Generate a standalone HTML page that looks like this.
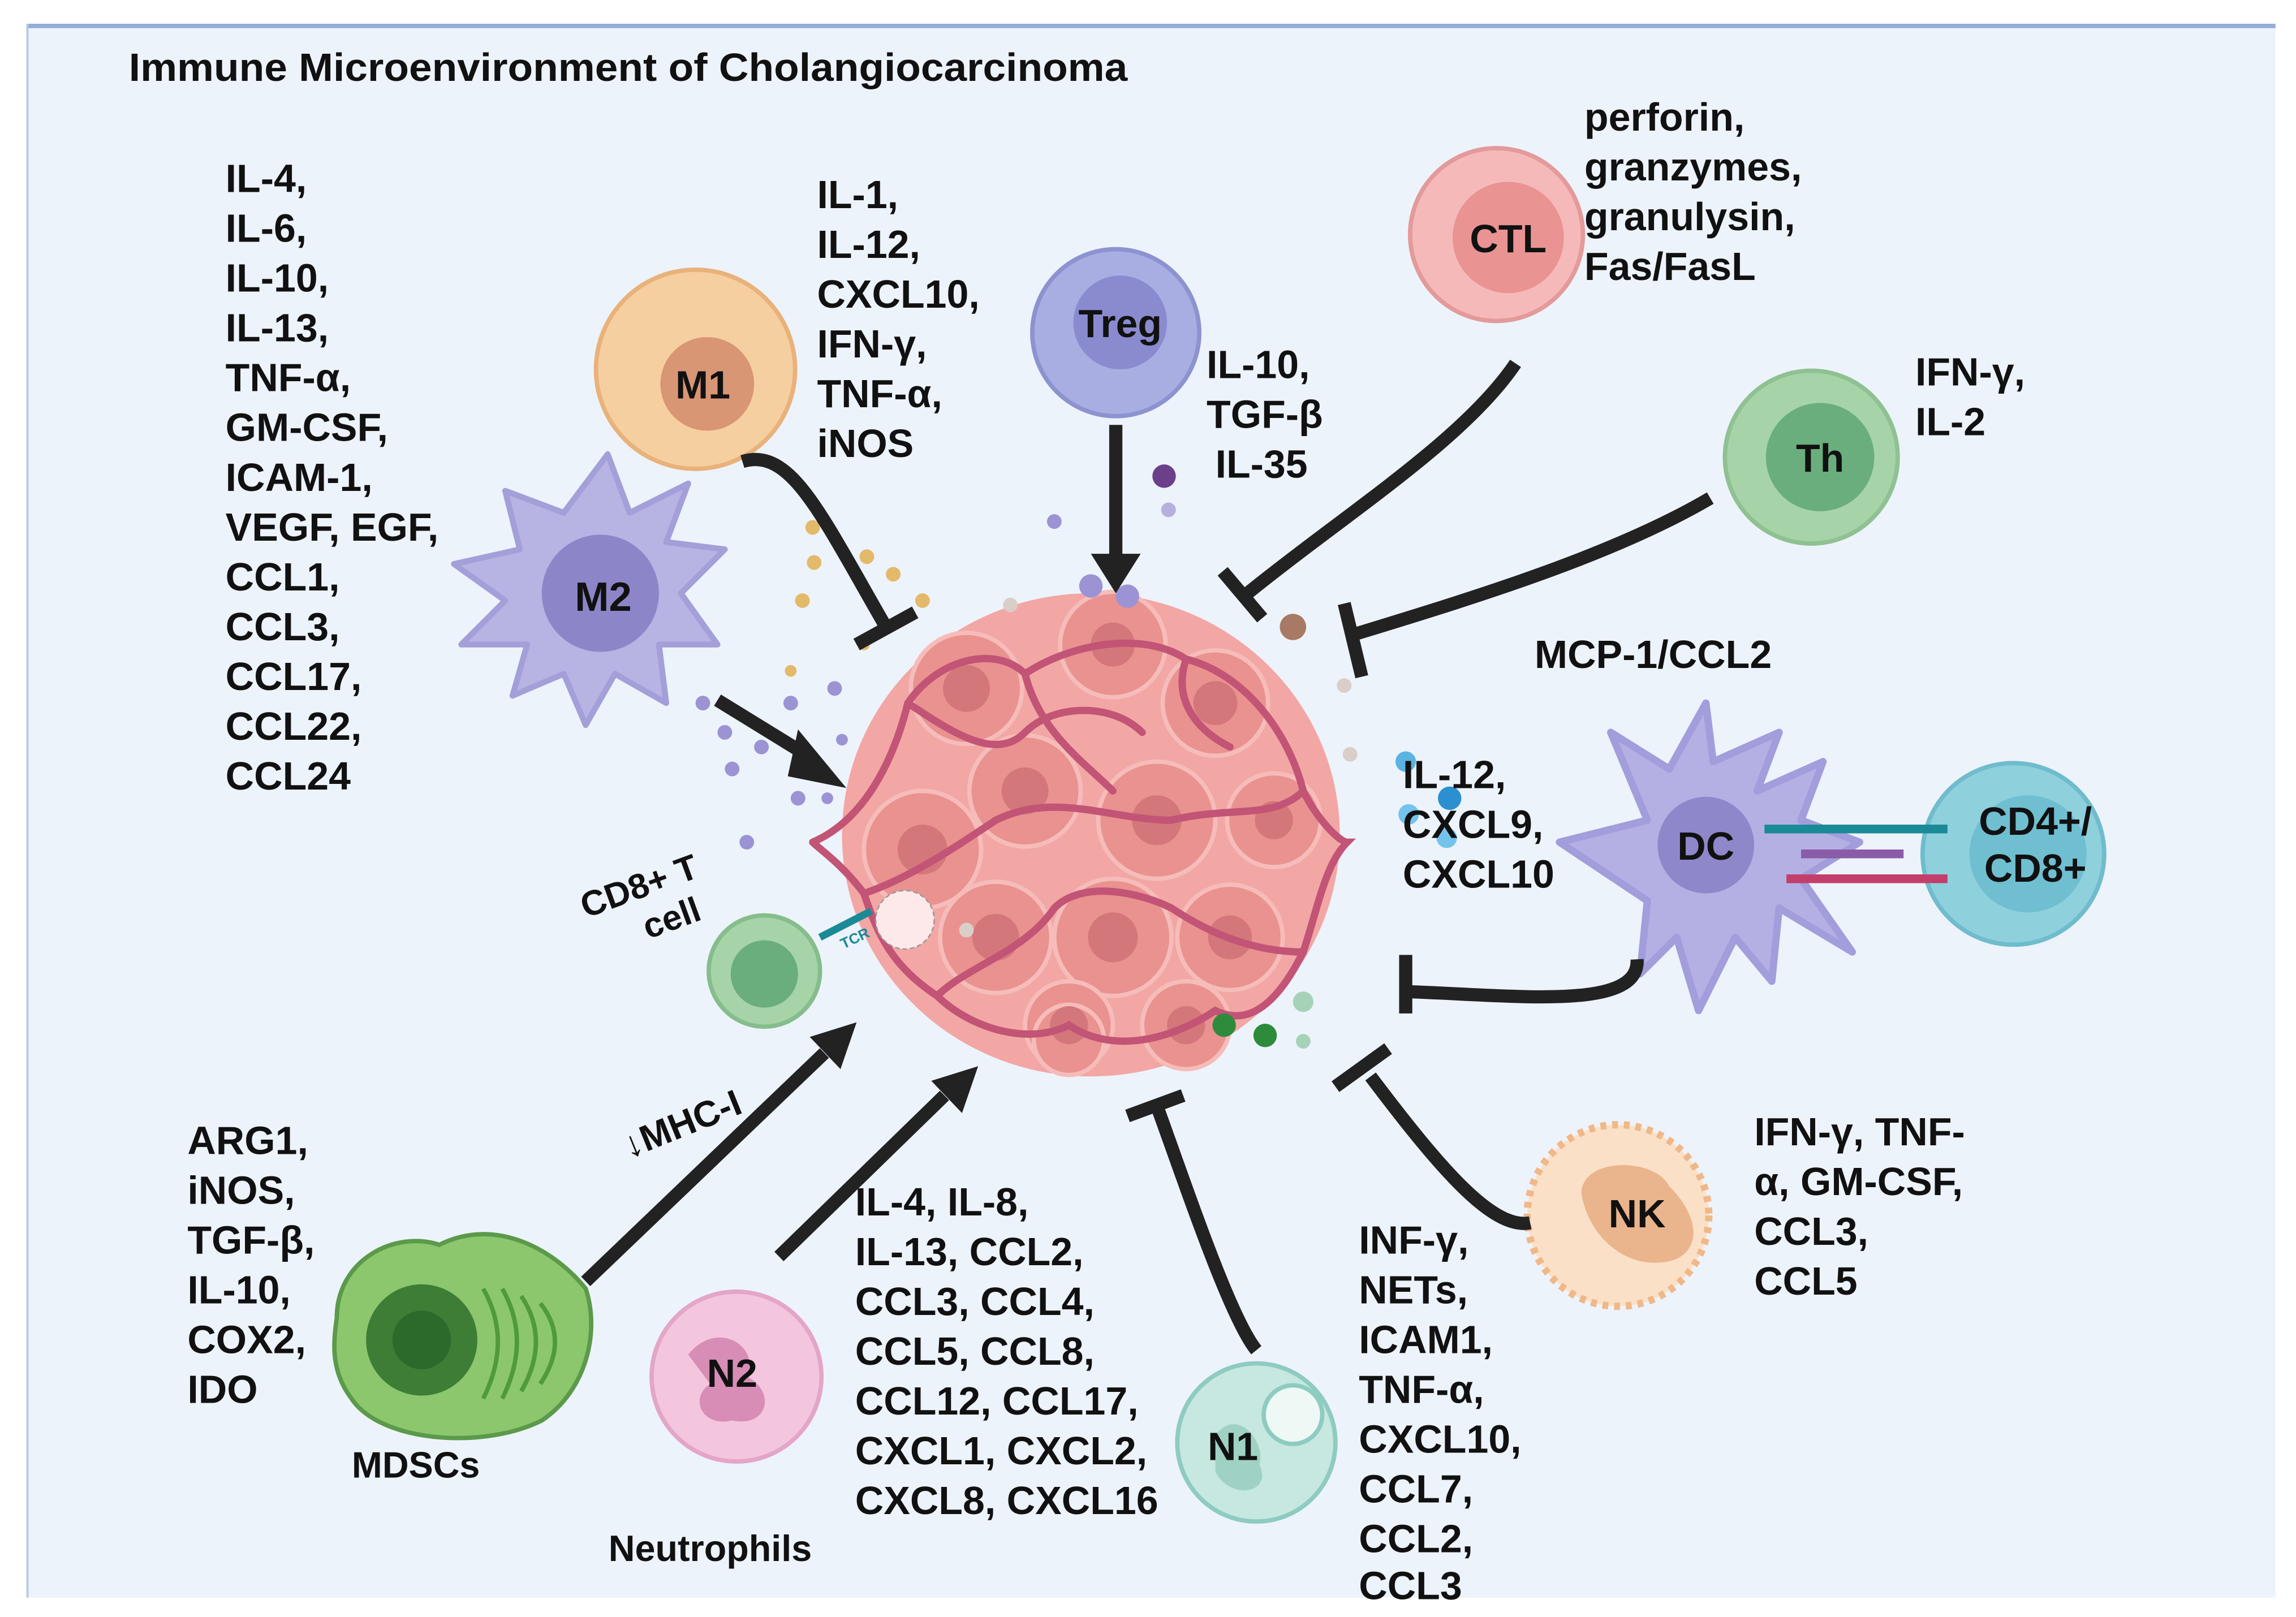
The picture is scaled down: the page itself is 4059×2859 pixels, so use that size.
<!DOCTYPE html>
<html><head><meta charset="utf-8"><style>
html,body{margin:0;padding:0;background:#fff}
svg{display:block}
text{font-family:"Liberation Sans Narrow","Liberation Sans",sans-serif;font-weight:bold;fill:#111}
</style></head><body>
<svg width="4059" height="2859" viewBox="0 0 1568 1104" xmlns="http://www.w3.org/2000/svg">
<rect x="0" y="0" width="1568" height="1104" fill="#fff"/>
<rect x="18" y="16" width="1536" height="1075" fill="#edf3fb"/>
<rect x="18" y="16" width="1536" height="3" fill="#94add8"/>
<rect x="18" y="16" width="1.5" height="1075" fill="#b8c8e6"/>

<text x="88" y="55" font-size="27" textLength="682" lengthAdjust="spacingAndGlyphs">Immune Microenvironment of Cholangiocarcinoma</text>

<!-- tumor -->
<g>
<ellipse cx="745" cy="570" rx="170" ry="165" fill="#f2a7a5"/>
<g fill="#e9928f" stroke="#f6bcb9" stroke-width="3">
<circle cx="660" cy="470" r="38"/><circle cx="760" cy="440" r="36"/><circle cx="830" cy="480" r="36"/>
<circle cx="630" cy="580" r="40"/><circle cx="700" cy="540" r="38"/><circle cx="790" cy="560" r="40"/>
<circle cx="870" cy="560" r="32"/><circle cx="680" cy="640" r="38"/><circle cx="760" cy="640" r="40"/>
<circle cx="840" cy="640" r="36"/><circle cx="730" cy="700" r="30"/><circle cx="810" cy="700" r="30"/>
<circle cx="730" cy="710" r="24"/>
</g>
<g fill="#d4777a">
<circle cx="660" cy="470" r="16"/><circle cx="760" cy="440" r="15"/><circle cx="830" cy="480" r="15"/>
<circle cx="630" cy="580" r="17"/><circle cx="700" cy="540" r="16"/><circle cx="790" cy="560" r="17"/>
<circle cx="870" cy="560" r="13"/><circle cx="680" cy="640" r="16"/><circle cx="760" cy="640" r="17"/>
<circle cx="840" cy="640" r="15"/><circle cx="730" cy="700" r="13"/><circle cx="810" cy="700" r="13"/>
</g>
<g fill="none" stroke="#c25476" stroke-width="5" stroke-linecap="round">
<path d="M555 575 C590 560 610 520 620 480 C640 450 680 440 700 460 C730 440 780 430 810 450 C850 460 880 500 890 540 C900 560 915 575 920 575 C905 590 900 620 890 650 C870 690 850 700 830 690 C800 710 760 720 730 700 C700 715 660 700 640 680 C610 660 600 640 590 610 C575 590 560 580 555 575"/>
<path d="M590 610 C620 600 650 580 680 560 C720 540 760 560 800 560 C840 550 870 560 890 540"/>
<path d="M640 680 C660 660 700 650 720 620 C740 600 780 610 800 620 C830 640 860 650 890 650"/>
<path d="M620 480 C650 500 680 520 700 500 C720 480 760 480 780 500"/>
<path d="M700 460 C710 500 740 520 760 540"/>
<path d="M810 450 C800 480 820 500 840 510"/>
</g>
<circle cx="618" cy="628" r="20" fill="#fde9ea" stroke="#999" stroke-width="1" stroke-dasharray="3 2"/>
</g>
<!-- dots -->
<g>
<circle cx="795" cy="325" r="8" fill="#6b3f8a"/><circle cx="798" cy="348" r="5" fill="#b5b0dd"/>
<circle cx="745" cy="400" r="8" fill="#9b93d4"/><circle cx="770" cy="407" r="8" fill="#9b93d4"/><circle cx="720" cy="356" r="5" fill="#9b93d4"/>
<circle cx="883" cy="428" r="9" fill="#a87a66"/><circle cx="918" cy="468" r="5" fill="#d9cfc8"/><circle cx="922" cy="515" r="5" fill="#d9cfc8"/>
<circle cx="960" cy="520" r="7" fill="#5ab3e0"/><circle cx="990" cy="545" r="8" fill="#2c8fd0"/><circle cx="962" cy="556" r="7" fill="#74c3ec"/><circle cx="988" cy="572" r="7" fill="#74c3ec"/>
<circle cx="836" cy="700" r="8" fill="#2e8b3b"/><circle cx="864" cy="707" r="8" fill="#2e8b3b"/><circle cx="890" cy="684" r="7" fill="#a6d3b8"/><circle cx="890" cy="711" r="5" fill="#a6d3b8"/>
<circle cx="660" cy="635" r="5" fill="#d9cfc8"/><circle cx="690" cy="413" r="5" fill="#d9cfc8"/>
<g fill="#e3b96a"><circle cx="555" cy="360" r="5"/><circle cx="556" cy="384" r="5"/><circle cx="592" cy="380" r="5"/><circle cx="610" cy="392" r="5"/><circle cx="630" cy="410" r="5"/><circle cx="548" cy="410" r="5"/><circle cx="590" cy="440" r="4"/><circle cx="540" cy="458" r="4"/></g>
<g fill="#9b93d4"><circle cx="480" cy="480" r="5"/><circle cx="495" cy="500" r="5"/><circle cx="520" cy="510" r="5"/><circle cx="540" cy="480" r="5"/><circle cx="570" cy="470" r="5"/><circle cx="500" cy="525" r="5"/><circle cx="545" cy="545" r="5"/><circle cx="565" cy="545" r="4"/><circle cx="510" cy="575" r="5"/><circle cx="575" cy="505" r="4"/></g>
</g>

<!-- M2 -->
<path d="M415 310 L430 350 L470 330 L455 370 L495 375 L465 405 L490 440 L450 440 L455 480 L420 460 L400 495 L385 460 L350 475 L360 440 L315 440 L345 410 L310 385 L355 375 L345 335 L385 350 Z" fill="#b7b3e3" stroke="#a39fd8" stroke-width="4" stroke-linejoin="round"/>
<circle cx="410" cy="405" r="40" fill="#8c86c9"/>
<text x="412" y="417" font-size="28" text-anchor="middle">M2</text>
<!-- M1 -->
<circle cx="475" cy="252" r="68" fill="#f6cfa0" stroke="#e8b27a" stroke-width="3"/>
<circle cx="483" cy="262" r="32" fill="#d89675"/>
<text x="480" y="272" font-size="27" text-anchor="middle">M1</text>
<!-- Treg -->
<circle cx="762" cy="227" r="57" fill="#a9aee2" stroke="#8d92d0" stroke-width="3"/>
<circle cx="765" cy="220" r="32" fill="#8a8bcf"/>
<text x="765" y="230" font-size="27" text-anchor="middle">Treg</text>
<!-- CTL -->
<circle cx="1022" cy="160" r="59" fill="#f6b9b9" stroke="#e39a9a" stroke-width="3"/>
<circle cx="1030" cy="162" r="38" fill="#e99393"/>
<text x="1030" y="172" font-size="27" text-anchor="middle">CTL</text>
<!-- Th -->
<circle cx="1237" cy="312" r="59" fill="#a6d4a8" stroke="#8fc193" stroke-width="3"/>
<circle cx="1243" cy="312" r="37" fill="#6aae7e"/>
<text x="1243" y="322" font-size="27" text-anchor="middle">Th</text>
<!-- DC -->
<path d="M1165 480 L1170 520 L1215 500 L1200 540 L1245 520 L1230 560 L1270 575 L1230 600 L1265 650 L1215 620 L1210 670 L1185 640 L1160 690 L1145 640 L1120 665 L1125 615 L1065 575 L1125 560 L1100 500 L1140 525 Z" fill="#b5b0e4" stroke="#a29ddb" stroke-width="5" stroke-linejoin="round"/>
<circle cx="1165" cy="577" r="33" fill="#8e88cb"/>
<text x="1165" y="587" font-size="27" text-anchor="middle">DC</text>
<circle cx="1375" cy="583" r="62" fill="#8fd0dd" stroke="#6fbccd" stroke-width="3"/>
<circle cx="1385" cy="583" r="40" fill="#6fbfd1"/>
<text x="1390" y="570" font-size="27" text-anchor="middle">CD4+/</text>
<text x="1390" y="602" font-size="27" text-anchor="middle">CD8+</text>
<g stroke-width="6"><line x1="1205" y1="566" x2="1330" y2="566" stroke="#1a8a96"/><line x1="1230" y1="583" x2="1300" y2="583" stroke="#8a5ca8"/><line x1="1220" y1="600" x2="1330" y2="600" stroke="#c23f6b"/></g>
<!-- CD8 T -->
<circle cx="522" cy="663" r="38" fill="#a6d4a8" stroke="#86bd8c" stroke-width="3"/>
<circle cx="522" cy="665" r="23" fill="#6aae7e"/>
<path d="M560 640 L595 622" stroke="#1a8a96" stroke-width="5"/>
<text x="576" y="648" font-size="10" fill="#1a8a96" style="fill:#1a8a96" transform="rotate(-25 576 648)">TCR</text>
<text x="395" y="612" font-size="24" transform="rotate(-20 440 605)">CD8+ T</text>
<text x="430" y="640" font-size="24" transform="rotate(-20 440 605)">cell</text>
<!-- MDSC -->
<path d="M230 900 C230 860 270 840 300 850 C340 830 380 855 400 880 C410 910 400 950 370 970 C330 990 260 985 240 955 C225 935 228 915 230 900 Z" fill="#8cc76e" stroke="#5b9a4a" stroke-width="3"/>
<circle cx="288" cy="915" r="38" fill="#3e7d36"/>
<circle cx="288" cy="915" r="20" fill="#2c6a2b"/>
<g stroke="#4f9a3d" stroke-width="3" fill="none"><path d="M330 880 Q350 915 330 955"/><path d="M343 880 Q363 915 343 955"/><path d="M356 885 Q376 915 356 950"/><path d="M369 890 Q389 915 369 945"/></g>
<text x="284" y="1009" font-size="25" text-anchor="middle">MDSCs</text>
<!-- N2 -->
<circle cx="503" cy="940" r="58" fill="#f3c6dd" stroke="#e3a6c6" stroke-width="3"/>
<path d="M470 925 C490 900 520 920 510 940 C530 950 525 975 500 970 C480 975 470 955 485 945 Z" fill="#d78db5"/>
<text x="500" y="947" font-size="27" text-anchor="middle">N2</text>
<text x="485" y="1066" font-size="25" text-anchor="middle">Neutrophils</text>
<!-- N1 -->
<circle cx="858" cy="985" r="54" fill="#c6e8e0" stroke="#8ecbc0" stroke-width="3"/>
<circle cx="883" cy="966" r="20" fill="#eef9f6" stroke="#8ecbc0" stroke-width="3"/>
<path d="M830 980 C845 960 865 985 860 1000 C870 1020 840 1025 830 1005 Z" fill="#9fd2c5"/>
<text x="842" y="997" font-size="27" text-anchor="middle">N1</text>
<!-- NK -->
<circle cx="1105" cy="830" r="62" fill="#fbe0c8" stroke="#f0b888" stroke-width="5" stroke-dasharray="4 4"/>
<path d="M1080 815 C1080 790 1130 790 1140 810 C1165 835 1160 860 1135 862 C1110 865 1085 845 1080 815 Z" fill="#eab48d"/>
<text x="1118" y="838" font-size="27" text-anchor="middle">NK</text>

<!-- connectors -->
<g stroke="#222" stroke-width="9" fill="none" stroke-linecap="butt">
<path d="M507 315 C540 305 560 350 605 428"/><line x1="585" y1="440" x2="625" y2="418"/>
<line x1="762" y1="290" x2="762" y2="380"/>
<path d="M1035 248 C1000 300 920 350 852 405"/><line x1="835" y1="390" x2="862" y2="422"/>
<path d="M1168 340 C1100 380 1000 410 925 433"/><line x1="918" y1="412" x2="930" y2="462"/>
<path d="M1118 655 C1120 690 1040 680 960 677"/><line x1="960" y1="652" x2="960" y2="692"/>
<path d="M1045 835 C1020 840 985 800 936 735"/><line x1="912" y1="742" x2="948" y2="716"/>
<path d="M858 922 C840 900 810 810 790 755"/><line x1="770" y1="762" x2="808" y2="748"/>
<line x1="490" y1="478" x2="555" y2="518"/>
<line x1="400" y1="875" x2="563" y2="719"/>
<line x1="532" y1="858" x2="645" y2="748"/>
</g>
<g fill="#222">
<polygon points="745,378 779,378 762,405"/>
<polygon points="545,498 578,538 538,530"/>
<polygon points="585,698 574,730 553,708"/>
<polygon points="668,728 657,760 636,738"/>
</g>

<!-- labels -->
<g font-size="27">
<text x="154" y="131">IL-4,</text><text x="154" y="165">IL-6,</text><text x="154" y="199">IL-10,</text><text x="154" y="233">IL-13,</text><text x="154" y="267">TNF-α,</text><text x="154" y="301">GM-CSF,</text><text x="154" y="335">ICAM-1,</text><text x="154" y="369">VEGF, EGF,</text><text x="154" y="403">CCL1,</text><text x="154" y="437">CCL3,</text><text x="154" y="471">CCL17,</text><text x="154" y="505">CCL22,</text><text x="154" y="539">CCL24</text>
<text x="558" y="142">IL-1,</text><text x="558" y="176">IL-12,</text><text x="558" y="210">CXCL10,</text><text x="558" y="244">IFN-γ,</text><text x="558" y="278">TNF-α,</text><text x="558" y="312">iNOS</text>
<text x="1082" y="89">perforin,</text><text x="1082" y="123">granzymes,</text><text x="1082" y="157">granulysin,</text><text x="1082" y="191">Fas/FasL</text>
<text x="824" y="258">IL-10,</text><text x="824" y="292">TGF-β</text><text x="830" y="326">IL-35</text>
<text x="1308" y="263">IFN-γ,</text><text x="1308" y="297">IL-2</text>
<text x="1048" y="456">MCP-1/CCL2</text>
<text x="958" y="538">IL-12,</text><text x="958" y="572">CXCL9,</text><text x="958" y="606">CXCL10</text>
<text x="1198" y="782">IFN-γ, TNF-</text><text x="1198" y="816">α, GM-CSF,</text><text x="1198" y="850">CCL3,</text><text x="1198" y="884">CCL5</text>
<text x="128" y="788">ARG1,</text><text x="128" y="822">iNOS,</text><text x="128" y="856">TGF-β,</text><text x="128" y="890">IL-10,</text><text x="128" y="924">COX2,</text><text x="128" y="958">IDO</text>
<text x="584" y="830">IL-4, IL-8,</text><text x="584" y="864">IL-13, CCL2,</text><text x="584" y="898">CCL3, CCL4,</text><text x="584" y="932">CCL5, CCL8,</text><text x="584" y="966">CCL12, CCL17,</text><text x="584" y="1000">CXCL1, CXCL2,</text><text x="584" y="1034">CXCL8, CXCL16</text>
<text x="928" y="856">INF-γ,</text><text x="928" y="890">NETs,</text><text x="928" y="924">ICAM1,</text><text x="928" y="958">TNF-α,</text><text x="928" y="992">CXCL10,</text><text x="928" y="1026">CCL7,</text><text x="928" y="1060">CCL2,</text><text x="928" y="1092">CCL3</text>
</g>
<text x="422" y="778" font-size="25" transform="rotate(-22 460 765)">↓MHC-I</text>
</svg>
</body></html>
